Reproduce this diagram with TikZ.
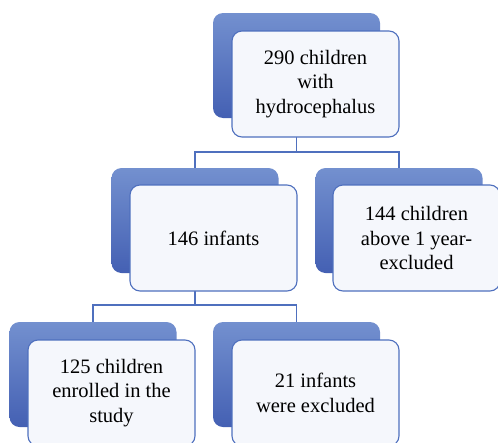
\documentclass[tikz,border=0pt]{standalone}
\usepackage{fontspec}
\setmainfont{Liberation Serif}
\definecolor{bTop}{HTML}{7390CF}
\definecolor{bBot}{HTML}{4460B3}
\definecolor{lineBlue}{HTML}{4F70BE}
\definecolor{frontFill}{HTML}{F5F7FC}
\tikzset{
  back/.style={rounded corners=10pt, top color=bTop, bottom color=bBot, draw=none,
    minimum width=167pt, minimum height=105pt, inner sep=0pt},
  front/.style={rounded corners=10pt, draw=lineBlue, line width=1.1pt, fill=frontFill,
    minimum width=167pt, minimum height=106pt,
    inner sep=0pt, align=center, text=black,
    font=\fontsize{20.5}{24.5}\selectfont},
  conn/.style={draw=lineBlue, line width=1.4pt}
}
\begin{document}
\begin{tikzpicture}[x=1pt,y=-1pt]
\useasboundingbox (0,0) rectangle (498,442);
\clip (0,0) rectangle (498,442);
% back boxes
\node[back] (tb) at (296.5,65.5) {};
\node[back] (lb) at (195,220.5) {};
\node[back] (rb) at (399,220.5) {};
\node[back] (llb) at (93,374.5) {};
\node[back] (lrb) at (296.5,374.5) {};
% connectors
\coordinate (j1) at (296.5,152);
\coordinate (j2) at (195,305);
\draw[conn] (tb.south) -- (j1);
\draw[conn] (lb.north) |- (j1) -| (rb.north);
\draw[conn] (lb.south) -- (j2);
\draw[conn] (llb.north) |- (j2) -| (lrb.north);
% front boxes
\node[front] (t) at (315.5,84) {290 children\\with\\hydrocephalus};
\node[front] (l) at (213.5,238) {146 infants};
\node[front] (r) at (416.5,238) {144 children\\above 1 year-\\excluded};
\node[front] (ll) at (111.5,393) {125 children\\enrolled in the\\study};
\node[front] (lr) at (315.5,393) {21 infants\\were excluded};
\end{tikzpicture}
\end{document}
